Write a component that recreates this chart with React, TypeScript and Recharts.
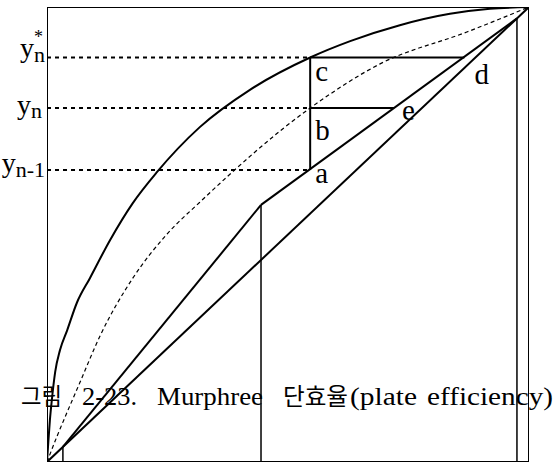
import React from 'react';
import { ComposedChart, Line, XAxis, YAxis, ReferenceDot } from 'recharts';

// ---- data (unit square, x = liquid, y = vapour) ----
const boxX = [0, 0, 1, 1, 0];
const boxY = [0, 1, 1, 0, 0];

const eqX = [0, 0.003, 0.006, 0.010, 0.017, 0.027, 0.042, 0.062, 0.089, 0.131, 0.178, 0.228, 0.317, 0.421, 0.546, 0.629, 0.732, 0.836, 0.919, 1];
const eqY = [0, 0.048, 0.092, 0.136, 0.198, 0.246, 0.290, 0.350, 0.404, 0.488, 0.569, 0.637, 0.736, 0.818, 0.889, 0.925, 0.960, 0.985, 0.996, 1];

const pseudoX = [0, 0.021, 0.042, 0.068, 0.110, 0.178, 0.249, 0.317, 0.546, 0.691, 0.871, 1];
const pseudoY = [0, 0.057, 0.110, 0.174, 0.277, 0.404, 0.501, 0.571, 0.778, 0.875, 0.945, 1];

const diagX = [0, 1];
const diagY = [0, 1];

const stripX = [0.033, 0.444];
const stripY = [0.033, 0.565];
const rectX = [0.444, 0.975];
const rectY = [0.565, 0.975];

const xW = 0.033;
const xF = 0.444;
const xD = 0.975;

const xStage = 0.546;
const yA = 0.642;
const yB = 0.778;
const yC = 0.889;
const xE = 0.72;
const xDpt = 0.866;

const tickValues = [yA, yB, yC];
const tickMain = ['y', 'y', 'y'];
const tickSub = ['n-1', 'n', 'n'];
const tickSup = ['', '', '*'];

const pointLabels = ['a', 'b', 'c', 'd', 'e'];
const pointX = [xStage, xStage, xStage, xDpt, xE];
const pointY = [yA, yB, yC, yC, yB];

const captionParts = ['그림', '2-23.', 'Murphree', '단효율', '(plate', 'efficiency)'];

// ---- layout / style ----
const W = 559;
const H = 464;
const serif = "'Liberation Serif', 'Times New Roman', serif";
const captionFont = "'Liberation Serif', 'Noto Sans CJK KR', serif";
const tickLayout = [
  { dx: 1, dy: 2, subDy: 5 },
  { dx: -2, dy: 6, subDy: 4 },
  { dx: 1, dy: -1, subDy: 5 },
];
const starLayout = { dx: -1, dy: -15 };
const labelOffset: Record<string, [number, number]> = {
  a: [5, 13],
  b: [5, 32],
  c: [5, 23],
  d: [10, 26],
  e: [8, 12],
};
const captionLayout = [
  { x: 21, w: 41, size: 24 },
  { x: 82, w: 55, size: 25 },
  { x: 157, w: 106, size: 25 },
  { x: 283, w: 65, size: 24 },
  { x: 350, w: 67, size: 25 },
  { x: 427, w: 126, size: 25 },
];
const captionBaseline = 405;

const pts = (xs: number[], ys: number[]) => xs.map((x, i) => ({ x, y: ys[i] }));

const renderTick = (props: any) => {
  const { x, y, index } = props;
  const i = typeof index === 'number' ? index : tickValues.indexOf(props.payload.value);
  const st = tickLayout[i];
  return (
    <g>
      <text x={x + st.dx} y={y + st.dy} textAnchor="end" fontFamily={serif} fill="#000">
        <tspan fontSize={28}>{tickMain[i]}</tspan>
        <tspan fontSize={22} dy={st.subDy}>{tickSub[i]}</tspan>
      </text>
      {tickSup[i] ? (
        <text x={x + starLayout.dx} y={y + starLayout.dy} textAnchor="end" fontFamily={serif} fontSize={18} fill="#000">
          {tickSup[i]}
        </text>
      ) : null}
    </g>
  );
};

const seg = (data: any[], width: number, extra: any = {}) => ({
  data,
  dataKey: 'y',
  stroke: '#000',
  strokeWidth: width,
  dot: false,
  activeDot: false,
  isAnimationActive: false,
  legendType: 'none' as const,
  ...extra,
});

export default function App() {
  const lines: any[] = [
    seg(pts(boxX, boxY), 2),
    seg(pts(eqX, eqY), 2, { type: 'monotone' }),
    seg(pts(pseudoX, pseudoY), 1.2, { type: 'monotone', strokeDasharray: '4 3' }),
    seg(pts(diagX, diagY), 2),
    seg(pts(stripX, stripY), 2),
    seg(pts(rectX, rectY), 2),
    seg(pts([xW, xW], [0, xW]), 1.5),
    seg(pts([xF, xF], [0, stripY[1]]), 1.5),
    seg(pts([xD, xD], [0, xD]), 1.5),
    seg(pts([xStage, xStage], [yA, yC]), 2),
    seg(pts([xStage, xE], [yB, yB]), 2),
    seg(pts([xStage, xDpt], [yC, yC]), 2),
    seg(pts([0, xStage], [yA, yA]), 2, { strokeDasharray: '4 4' }),
    seg(pts([0, xStage], [yB, yB]), 2, { strokeDasharray: '4 4' }),
    seg(pts([0, xStage], [yC, yC]), 2, { strokeDasharray: '4 4' }),
  ];
  return (
    <div style={{ position: 'absolute', left: 0, top: 0, width: W, height: H, background: '#fff' }}>
      <ComposedChart width={W} height={H} margin={{ top: 7, right: 30, bottom: 2, left: 0 }}>
        <XAxis type="number" dataKey="x" domain={[0, 1]} hide allowDataOverflow />
        <YAxis
          type="number"
          dataKey="y"
          domain={[0, 1]}
          width={47}
          ticks={tickValues}
          interval={0}
          tick={renderTick}
          tickSize={0}
          tickMargin={3}
          axisLine={false}
          tickLine={false}
          allowDataOverflow
        />
        {lines.map((p, k) => (
          <Line key={k} {...p} />
        ))}
        {pointLabels.map((lab, k) => (
          <ReferenceDot
            key={lab}
            x={pointX[k]}
            y={pointY[k]}
            r={0}
            fill="none"
            stroke="none"
            ifOverflow="visible"
            label={(p: any) => {
              const vb = p.viewBox || {};
              return (
                <text
                  x={vb.x + labelOffset[lab][0]}
                  y={vb.y + labelOffset[lab][1]}
                  fontFamily={serif}
                  fontSize={29}
                  fill="#000"
                >
                  {lab}
                </text>
              );
            }}
          />
        ))}
      </ComposedChart>
      <svg width={W} height={H} style={{ position: 'absolute', left: 0, top: 0, pointerEvents: 'none' }}>
        {captionParts.map((t, k) => (
          <text
            key={k}
            x={captionLayout[k].x}
            y={captionBaseline}
            fontFamily={captionFont}
            fontSize={captionLayout[k].size}
            textLength={captionLayout[k].w}
            lengthAdjust="spacingAndGlyphs"
            fill="#000"
          >
            {t}
          </text>
        ))}
      </svg>
    </div>
  );
}
